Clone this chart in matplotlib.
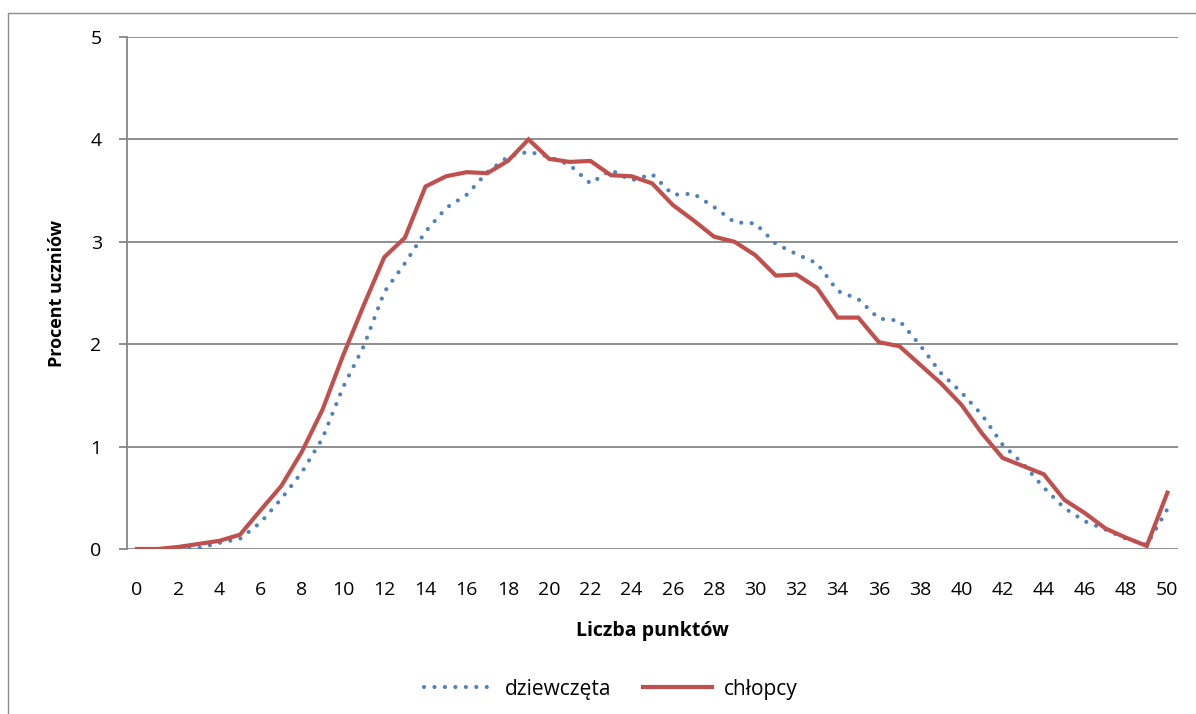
import matplotlib
matplotlib.use("Agg")
import matplotlib.pyplot as plt
from matplotlib.patches import Rectangle

points = list(range(0, 51))
dziewczeta = [0.00, 0.00, 0.00, 0.01, 0.06, 0.10, 0.26, 0.49, 0.75, 1.08,
              1.58, 1.98, 2.51, 2.79, 3.10, 3.33, 3.46, 3.68, 3.83, 3.88,
              3.83, 3.75, 3.57, 3.70, 3.60, 3.66, 3.46, 3.47, 3.34, 3.19,
              3.18, 2.98, 2.88, 2.79, 2.52, 2.44, 2.25, 2.23, 1.99, 1.72,
              1.53, 1.31, 1.02, 0.83, 0.60, 0.40, 0.27, 0.19, 0.10, 0.04,
              0.39]
chlopcy = [0.00, 0.00, 0.02, 0.05, 0.08, 0.14, 0.38, 0.615, 0.95, 1.36,
           1.89, 2.38, 2.85, 3.04, 3.54, 3.64, 3.68, 3.67, 3.79, 4.00,
           3.81, 3.78, 3.79, 3.65, 3.64, 3.57, 3.36, 3.21, 3.05, 3.00,
           2.87, 2.67, 2.68, 2.55, 2.26, 2.26, 2.02, 1.98, 1.80, 1.62,
           1.41, 1.13, 0.89, 0.81, 0.73, 0.48, 0.35, 0.20, 0.11, 0.03,
           0.55]
series_labels = ["dziewczęta", "chłopcy"]
x_label = "Liczba punktów"
y_label = "Procent uczniów"
y_ticks = [0, 1, 2, 3, 4, 5]
x_ticks = list(range(0, 51, 2))

plt.rcParams['font.family'] = ['Open Sans', 'DejaVu Sans']

W, H = 1196, 714
fig = plt.figure(figsize=(W / 100, H / 100), dpi=100)
fig.patch.set_facecolor("white")

# chart border
fig.patches.append(Rectangle((7.5 / W, -0.05), 1.2, 1.05 - 12.5 / H,
                             transform=fig.transFigure, fill=False,
                             edgecolor="#8c8c8c", linewidth=1.0))

left, right = 126.7 / W, 1177.7 / W
bottom, top = 1 - 549 / H, 1 - 37 / H
ax = fig.add_axes([left, bottom, right - left, top - bottom])

grid_color = "#868686"
for yv in y_ticks:
    ax.axhline(yv, color=grid_color, linewidth=1.3, zorder=1)

blue = "#4F81BD"
red = "#C0504D"
l1, = ax.plot(points, dziewczeta, color=blue, linewidth=3.0,
              linestyle=(0, (0.01, 2.5)), dash_capstyle="round",
              solid_capstyle="round", zorder=3, label=series_labels[0])
l2, = ax.plot(points, chlopcy, color=red, linewidth=3.0,
              solid_joinstyle="miter", zorder=4, label=series_labels[1])

ax.set_xlim(-0.5, 50.5)
ax.set_ylim(0, 5)
ax.set_yticks(y_ticks)
ax.set_xticks(x_ticks)
ax.set_xticklabels([str(v) for v in x_ticks])
for s in ["top", "right", "bottom"]:
    ax.spines[s].set_visible(False)
ax.spines["left"].set_color(grid_color)
ax.spines["left"].set_linewidth(1.3)
ax.tick_params(axis="y", direction="out", length=6, width=1.3,
               color=grid_color, labelsize=14, pad=12, labelcolor="black")
ax.tick_params(axis="x", length=0, labelsize=14, pad=23, labelcolor="black")

fig.text((left + right) / 2, 1 - 631 / H, x_label, ha="center", va="center",
         fontsize=14, fontweight="bold")
fig.text(57 / W, (top + bottom) / 2, y_label, ha="center", va="center",
         rotation=90, fontsize=13, fontweight="bold")

fig.legend(handles=[l1, l2], labels=series_labels, loc="center",
           bbox_to_anchor=(611 / W, 1 - 689 / H), ncol=2, frameon=False,
           fontsize=15, handlelength=3.3, handletextpad=0.6,
           columnspacing=1.5)

fig.savefig("out.png", dpi=100, facecolor="white")
